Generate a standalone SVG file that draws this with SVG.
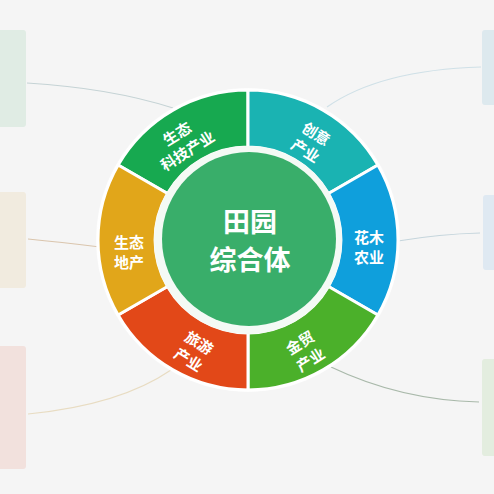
<svg xmlns="http://www.w3.org/2000/svg" width="494" height="494" viewBox="0 0 494 494">
<style>
.seg{stroke:#ffffff;stroke-width:3;stroke-linejoin:round}
.lbl{font-family:"Noto Sans CJK SC","Noto Sans",sans-serif;font-weight:700;font-size:15px;fill:#ffffff;text-anchor:middle}
.ctr{font-family:"Noto Sans CJK SC","Noto Sans",sans-serif;font-weight:700;font-size:27px;fill:#ffffff;text-anchor:middle}
.con{fill:none;stroke-width:1.2}
</style>
<rect width="494" height="494" fill="#f5f5f5"/>
<g id="boxes">
<rect id="box-tl" x="-6" y="30" width="32" height="97" rx="3" fill="#e0ece4"/>
<rect id="box-ml" x="-6" y="192" width="32" height="96" rx="3" fill="#f1ebdf"/>
<rect id="box-bl" x="-6" y="346" width="32" height="123" rx="3" fill="#f2e1dd"/>
<rect id="box-tr" x="482" y="30" width="20" height="75" rx="3" fill="#dde9ee"/>
<rect id="box-mr" x="483" y="195" width="20" height="75" rx="3" fill="#dfe9f2"/>
<rect id="box-br" x="482" y="359" width="20" height="97" rx="3" fill="#e3eddf"/>
</g>
<g id="connectors">
<path class="con" stroke="#c5d3d5" d="M27,83 Q110,88 173,108"/>
<path class="con" stroke="#cfe0e7" d="M327,107 Q380,70 481,67"/>
<path class="con" stroke="#dac5ad" d="M28,239 Q60,242 100,247"/>
<path class="con" stroke="#c5d5dc" d="M398,241 Q440,234 480,233"/>
<path class="con" stroke="#e8dcc2" d="M28,414 Q120,405 171,370"/>
<path class="con" stroke="#a9b9aa" d="M331,367 Q400,400 479,402"/>
</g>
<circle cx="248" cy="240" r="152" fill="#ffffff" opacity="0.7"/>
<g id="seg-keji">
<path class="seg" fill="#17a950" d="M118.1,165 A150,150 0 0 1 248,90 L248,147 A93,93 0 0 0 167.5,193.5 Z"/>
<g transform="translate(182,142) rotate(-32)"><text class="lbl" x="0" y="-4">生态</text><text class="lbl" x="0" y="16">科技产业</text></g>
</g>
<g id="seg-chuangyi">
<path class="seg" fill="#1ab3b2" d="M248,90 A150,150 0 0 1 377.9,165 L328.5,193.5 A93,93 0 0 0 248,147 Z"/>
<g transform="translate(311,142) rotate(32)"><text class="lbl" x="0" y="-4">创意</text><text class="lbl" x="0" y="16">产业</text></g>
</g>
<g id="seg-huamu">
<path class="seg" fill="#0f9fdc" d="M377.9,165 A150,150 0 0 1 377.9,315 L328.5,286.5 A93,93 0 0 0 328.5,193.5 Z"/>
<g transform="translate(369,247)"><text class="lbl" x="0" y="-4">花木</text><text class="lbl" x="0" y="16">农业</text></g>
</g>
<g id="seg-jinmao">
<path class="seg" fill="#4bb02a" d="M377.9,315 A150,150 0 0 1 248,390 L248,333 A93,93 0 0 0 328.5,286.5 Z"/>
<g transform="translate(305,351) rotate(-32)"><text class="lbl" x="0" y="-4">金贸</text><text class="lbl" x="0" y="16">产业</text></g>
</g>
<g id="seg-lvyou">
<path class="seg" fill="#e24818" d="M248,390 A150,150 0 0 1 118.1,315 L167.5,286.5 A93,93 0 0 0 248,333 Z"/>
<g transform="translate(194,351) rotate(32)"><text class="lbl" x="0" y="-4">旅游</text><text class="lbl" x="0" y="16">产业</text></g>
</g>
<g id="seg-dichan">
<path class="seg" fill="#e1a61a" d="M118.1,315 A150,150 0 0 1 118.1,165 L167.5,193.5 A93,93 0 0 0 167.5,286.5 Z"/>
<g transform="translate(129,252)"><text class="lbl" x="0" y="-4">生态</text><text class="lbl" x="0" y="16">地产</text></g>
</g>
<g id="center">
<circle cx="248" cy="240" r="94" fill="#f4faf5"/>
<circle cx="249" cy="239" r="87" fill="#39ae6a"/>
<text class="ctr" x="250" y="232">田园</text>
<text class="ctr" x="250" y="270">综合体</text>
</g>
</svg>
